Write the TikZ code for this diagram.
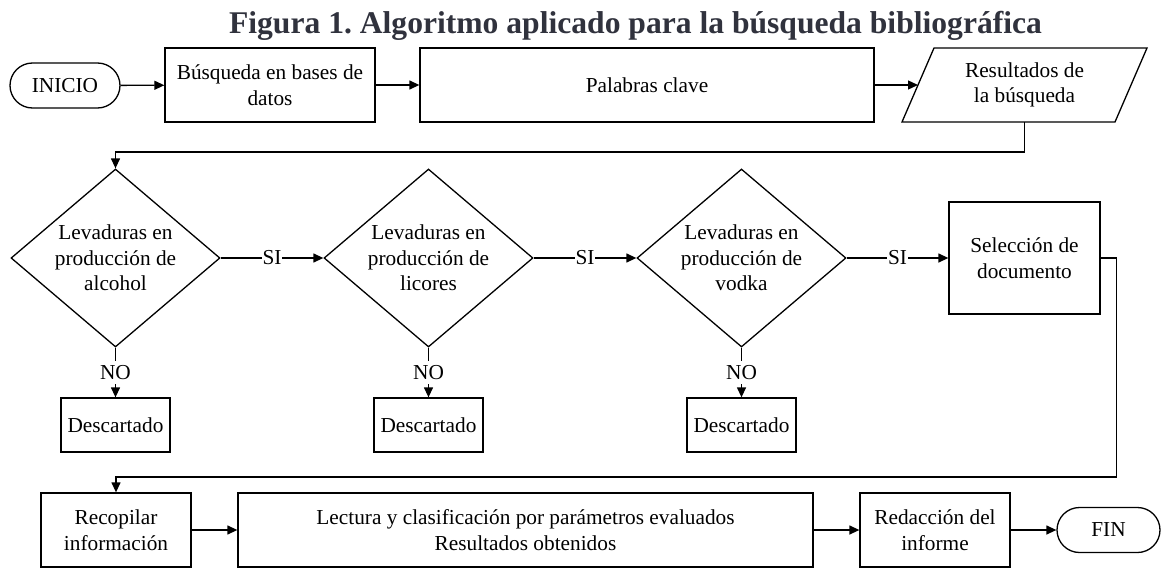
\documentclass[tikz,border=0pt]{standalone}
\usepackage{fontspec}
\setmainfont{Liberation Serif}
\usetikzlibrary{arrows.meta,shapes.geometric}
\definecolor{titlecol}{HTML}{30323D}
\frenchspacing
\begin{document}
\begin{tikzpicture}[x=1pt,y=-1pt,line width=1.3pt,
  every node/.style={font=\fontsize{21.3}{25.6}\selectfont, align=center, inner sep=0pt},
  box/.style={draw, rectangle},
  term/.style={draw, rectangle, rounded corners=22.5pt, minimum height=45pt},
  dia/.style={draw, diamond, minimum width=209pt, minimum height=178pt},
  arr/.style={-{Triangle[length=10pt,width=9pt]}},
  lbl/.style={fill=white, inner xsep=1pt, inner ysep=4pt}
]
\useasboundingbox (0,0) rectangle (1162,570);

\node[font=\bfseries\fontsize{31.6}{37}\selectfont, text=titlecol, anchor=base] (title) at (635.5,33) {Figura 1. Algoritmo aplicado para la búsqueda bibliográfica};

% top row
\node[term, minimum width=110pt] (ini) at (65,85.5) {INICIO};
\node[box, minimum width=210pt, minimum height=74pt] (bus) at (270,85) {Búsqueda en bases de\\datos};
\node[box, minimum width=454pt, minimum height=74pt] (pal) at (647,85) {Palabras clave};
\node (res) at (1024.5,85) {Resultados de\\la búsqueda};
\draw ([shift={(-122.5,37)}]res.center) -- ([shift={(-90.5,-37)}]res.center)
   -- ([shift={(122.5,-37)}]res.center) -- ([shift={(90.5,37)}]res.center) -- cycle;
\coordinate (resin) at ([shift={(-106.5,0)}]res.center);
\coordinate (resout) at ([shift={(0,37)}]res.center);

% decisions
\node[dia, label={[align=center]center:Levaduras en\\producción de\\alcohol}] (d1) at (115.5,258) {};
\node[dia, label={[align=center]center:Levaduras en\\producción de\\licores}] (d2) at (428.5,258) {};
\node[dia, label={[align=center]center:Levaduras en\\producción de\\vodka}] (d3) at (741.5,258) {};
\node[box, minimum width=151pt, minimum height=112pt] (sel) at (1024.5,258) {Selección de\\documento};

\node[box, minimum width=109pt, minimum height=54pt] (dc1) at (115.5,425) {Descartado};
\node[box, minimum width=109pt, minimum height=54pt] (dc2) at (428.5,425) {Descartado};
\node[box, minimum width=109pt, minimum height=54pt] (dc3) at (741.5,425) {Descartado};

% bottom row
\node[box, minimum width=150pt, minimum height=74pt] (rec) at (116,530) {Recopilar\\información};
\node[box, minimum width=575pt, minimum height=74pt] (lec) at (525.5,530) {Lectura y clasificación por parámetros evaluados\\Resultados obtenidos};
\node[box, minimum width=150pt, minimum height=74pt] (red) at (935,530) {Redacción del\\informe};
\node[term, minimum width=103pt] (fin) at (1108.5,530) {FIN};

% connectors
\draw[arr] (ini) -- (bus);
\draw[arr] (bus) -- (pal);
\draw[arr] (pal) -- (resin);
\draw[arr] (resout) -- ++(0,30) -| (d1.north);
\draw[arr] (d1.east) -- node[lbl]{SI} (d2.west);
\draw[arr] (d2.east) -- node[lbl]{SI} (d3.west);
\draw[arr] (d3.east) -- node[lbl]{SI} (sel.west);
\draw[arr] (d1.south) -- node[lbl]{NO} (dc1.north);
\draw[arr] (d2.south) -- node[lbl]{NO} (dc2.north);
\draw[arr] (d3.south) -- node[lbl]{NO} (dc3.north);
\draw[arr] (sel.east) -- ++(16,0) -- ++(0,219) -| (rec.north);
\draw[arr] (rec) -- (lec);
\draw[arr] (lec) -- (red);
\draw[arr] (red) -- (fin);
\end{tikzpicture}
\end{document}
